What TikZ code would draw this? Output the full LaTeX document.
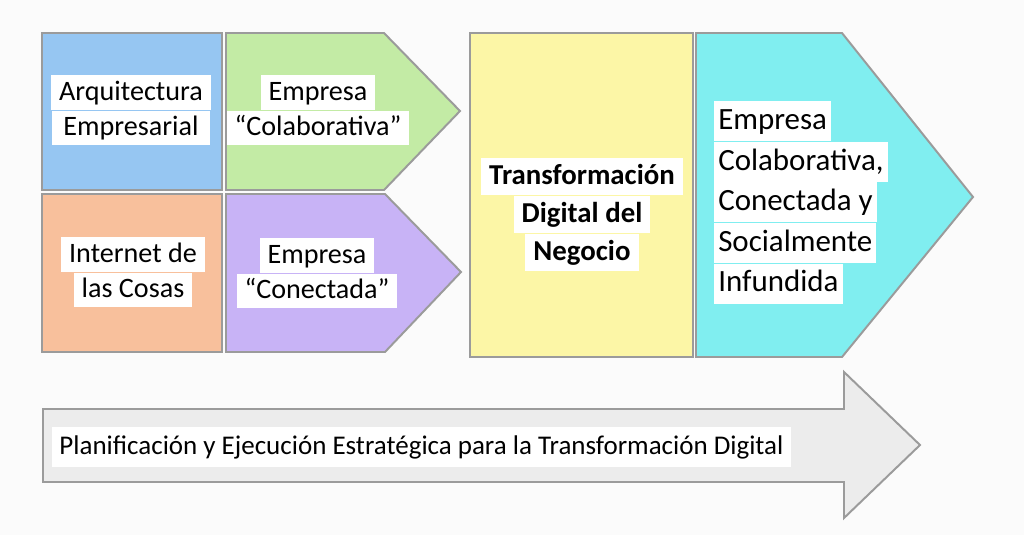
\documentclass[tikz,border=0pt]{standalone}
\usepackage{fontspec}
\setmainfont{Carlito}
\usetikzlibrary{positioning}

\definecolor{bgwhite}{HTML}{FBFBFB}
\definecolor{edgegray}{HTML}{9B9B9B}
\definecolor{boxblue}{HTML}{96C6F2}
\definecolor{boxgreen}{HTML}{C3EBA5}
\definecolor{boxorange}{HTML}{F8C09C}
\definecolor{boxpurple}{HTML}{C8B3F6}
\definecolor{boxyellow}{HTML}{FCF6A6}
\definecolor{boxcyan}{HTML}{80EEF0}
\definecolor{arrowgray}{HTML}{ECECEC}

\tikzset{
  panel/.style={draw=edgegray,line width=1.4pt,line join=miter},
  lbl/.style={fill=white,inner xsep=0.2cm,inner ysep=0.05cm,text height=0.57cm,text depth=0.2cm,
    font=\fontsize{20}{25}\selectfont},
  biglbl/.style={lbl,inner xsep=0.1cm,text height=0.66cm,text depth=0.24cm,font=\fontsize{22}{28}\selectfont},
  boldlbl/.style={lbl,inner ysep=0.04cm,text height=0.62cm,text depth=0.23cm,font=\fontsize{20.5}{26}\selectfont\bfseries}
}

\begin{document}
\begin{tikzpicture}[x=0.025cm,y=-0.025cm]
\useasboundingbox[fill=bgwhite] (0,0) rectangle (1024,535);

% shapes
\draw[panel,fill=boxblue] (42,33) rectangle (222,190);
\draw[panel,fill=boxgreen] (226,33) -- (384,33) -- (460,111) -- (384,190) -- (226,190) -- cycle;
\draw[panel,fill=boxorange] (42,194) rectangle (222,352);
\draw[panel,fill=boxpurple] (226,194) -- (385,194) -- (461,272) -- (385,352) -- (226,352) -- cycle;
\draw[panel,fill=boxyellow] (470,33) rectangle (693,357);
\draw[panel,fill=boxcyan] (696,33) -- (842,33) -- (973,197) -- (842,357) -- (696,357) -- cycle;
\draw[panel,fill=arrowgray] (43,409) -- (844,409) -- (844,372) -- (920,445) -- (844,518) -- (844,482) -- (43,482) -- cycle;

% labels
\node[lbl,minimum width=3.95cm,anchor=north] (arq1) at (131,75) {Arquitectura};
\node[lbl,minimum width=3.95cm,below=0pt of arq1] (arq2) {Empresarial};

\node[lbl,anchor=north] (colab1) at (318,75) {Empresa};
\node[lbl,below=0pt of colab1] (colab2) {“Colaborativa”};

\node[lbl,anchor=north] (iot1) at (133,237) {Internet de};
\node[lbl,below=0pt of iot1] (iot2) {las Cosas};

\node[lbl,anchor=north] (conec1) at (317,238) {Empresa};
\node[lbl,below=0pt of conec1] (conec2) {“Conectada”};

\node[boldlbl,anchor=north] (tdn1) at (582,158) {Transformación};
\node[boldlbl,below=0pt of tdn1] (tdn2) {Digital del};
\node[boldlbl,below=0pt of tdn2] (tdn3) {Negocio};

\node[biglbl,anchor=north west] (ecs1) at (714,101) {Empresa};
\node[biglbl,anchor=north west] (ecs2) at (ecs1.south west) {Colaborativa,};
\node[biglbl,anchor=north west] (ecs3) at (ecs2.south west) {Conectada y};
\node[biglbl,anchor=north west] (ecs4) at (ecs3.south west) {Socialmente};
\node[biglbl,anchor=north west] (ecs5) at (ecs4.south west) {Infundida};

\node[lbl,anchor=west,inner xsep=0.18cm,text height=0.55cm,text depth=0.2cm,inner ysep=0.125cm,
  font=\fontsize{19.2}{23}\selectfont] (plan) at (52,447)
  {Planificación y Ejecución Estratégica para la Transformación Digital};

\end{tikzpicture}
\end{document}
